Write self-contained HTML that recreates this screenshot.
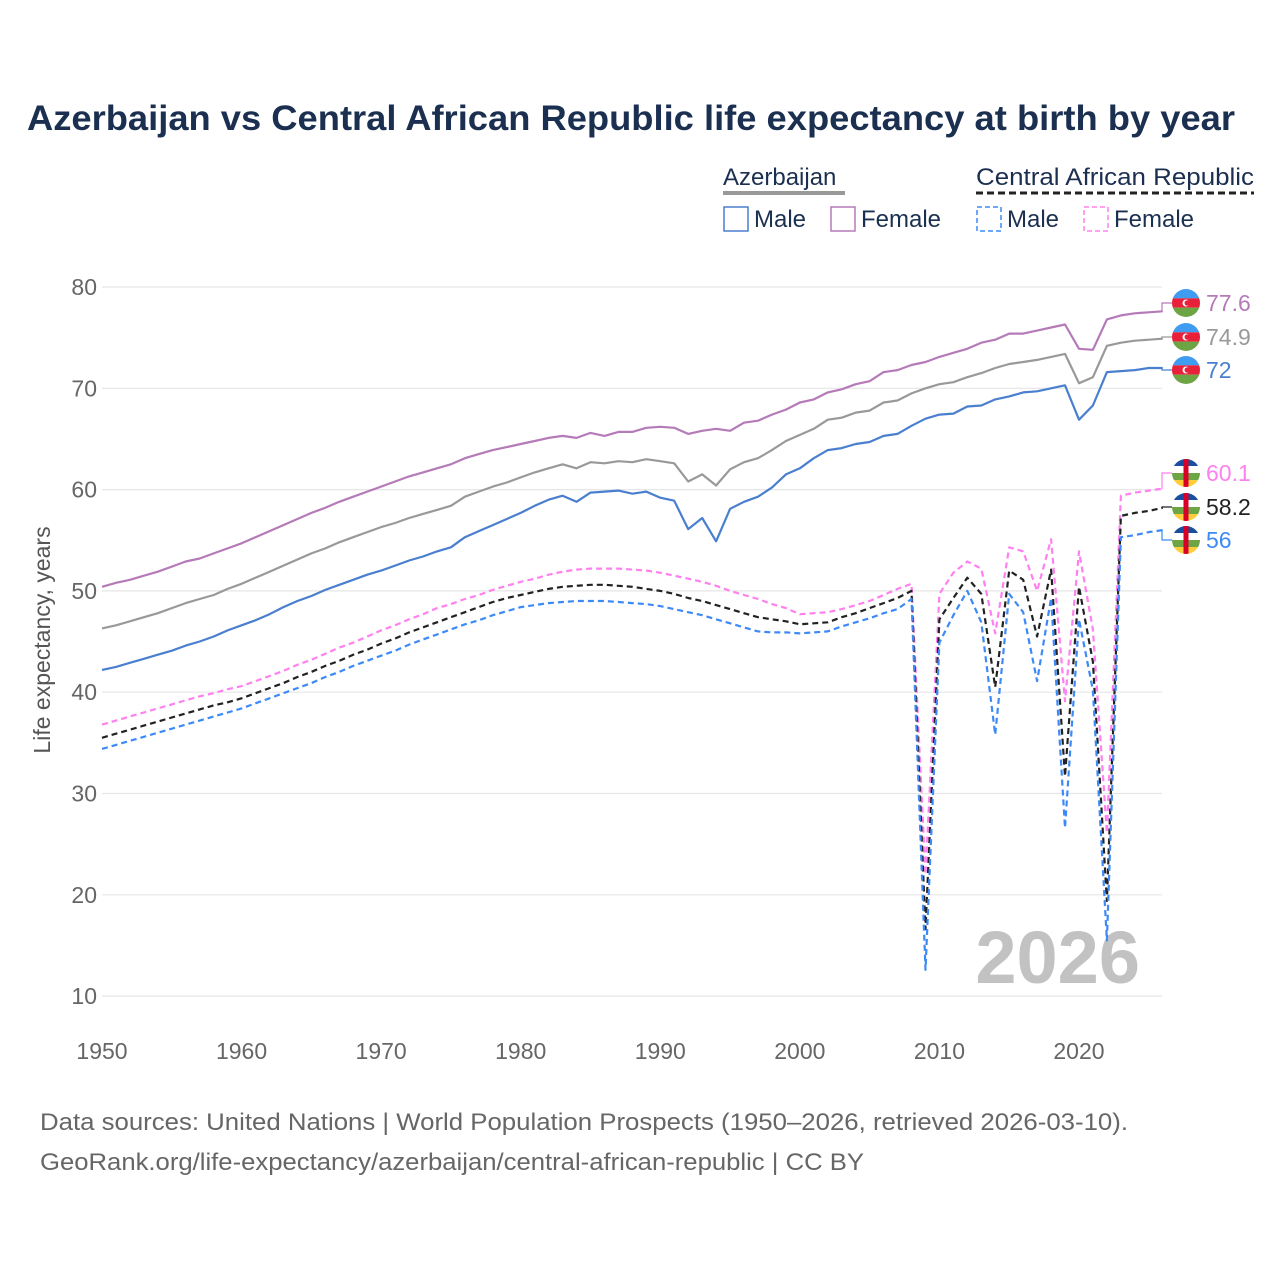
<!DOCTYPE html>
<html><head><meta charset="utf-8">
<style>
body{margin:0;background:#fff;font-family:"Liberation Sans",sans-serif;}
#wrap{position:relative;width:1280px;height:1280px;overflow:hidden;}
</style></head>
<body>
<div id="wrap">
<svg id="chart" width="1280" height="1280" viewBox="0 0 1280 1280" xmlns="http://www.w3.org/2000/svg">
<text x="631" y="130" text-anchor="middle" font-size="35" font-weight="bold" fill="#1b2f50" textLength="1208" lengthAdjust="spacingAndGlyphs">Azerbaijan vs Central African Republic life expectancy at birth by year</text>
<g font-size="24" fill="#1b2f50">
<text x="723" y="185">Azerbaijan</text>
<line x1="723" y1="193" x2="845" y2="193" stroke="#999" stroke-width="4"/>
<rect x="724" y="207" width="24" height="24" fill="none" stroke="#4a7fcf" stroke-width="1.5"/>
<text x="754" y="227">Male</text>
<rect x="831" y="207" width="24" height="24" fill="none" stroke="#b57ab8" stroke-width="1.5"/>
<text x="861" y="227">Female</text>
<text x="976" y="185" textLength="278" lengthAdjust="spacingAndGlyphs">Central African Republic</text>
<line x1="976" y1="193" x2="1254" y2="193" stroke="#222" stroke-width="3" stroke-dasharray="7,4"/>
<rect x="977" y="207" width="24" height="24" fill="none" stroke="#3d8af7" stroke-width="1.5" stroke-dasharray="5,3"/>
<text x="1007" y="227">Male</text>
<rect x="1084" y="207" width="24" height="24" fill="none" stroke="#ff80ef" stroke-width="1.5" stroke-dasharray="5,3"/>
<text x="1114" y="227">Female</text>
</g>
<g id="grid"></g>
<text x="1140" y="983" text-anchor="end" font-size="74" font-weight="bold" fill="#c2c2c2">2026</text>
<text transform="translate(50,640) rotate(-90)" text-anchor="middle" font-size="23" fill="#555">Life expectancy, years</text>
<g id="series"></g>
<g id="ends"></g>
<text x="40" y="1130" font-size="24" fill="#666" textLength="1088" lengthAdjust="spacingAndGlyphs">Data sources: United Nations | World Population Prospects (1950–2026, retrieved 2026-03-10).</text>
<text x="40" y="1170" font-size="24" fill="#666" textLength="824" lengthAdjust="spacingAndGlyphs">GeoRank.org/life-expectancy/azerbaijan/central-african-republic | CC BY</text>
</svg>
</div>
<script>
const startYear = 1950;
const yTicks = [10,20,30,40,50,60,70,80];
const xTicks = [1950,1960,1970,1980,1990,2000,2010,2020];
const azMale = [42.2,42.5,42.9,43.3,43.7,44.1,44.6,45.0,45.5,46.1,
46.6,47.1,47.7,48.4,49.0,49.5,50.1,50.6,51.1,51.6,
52.0,52.5,53.0,53.4,53.9,54.3,55.3,55.9,56.5,57.1,
57.7,58.4,59.0,59.4,58.8,59.7,59.8,59.9,59.6,59.8,
59.2,58.9,56.1,57.2,54.9,58.1,58.8,59.3,60.2,61.5,
62.1,63.1,63.9,64.1,64.5,64.7,65.3,65.5,66.3,67.0,
67.4,67.5,68.2,68.3,68.9,69.2,69.6,69.7,70.0,70.3,
66.9,68.3,71.6,71.7,71.8,72.0,72.0];
const azFemale = [50.4,50.8,51.1,51.5,51.9,52.4,52.9,53.2,53.7,54.2,
54.7,55.3,55.9,56.5,57.1,57.7,58.2,58.8,59.3,59.8,
60.3,60.8,61.3,61.7,62.1,62.5,63.1,63.5,63.9,64.2,
64.5,64.8,65.1,65.3,65.1,65.6,65.3,65.7,65.7,66.1,
66.2,66.1,65.5,65.8,66.0,65.8,66.6,66.8,67.4,67.9,
68.6,68.9,69.6,69.9,70.4,70.7,71.6,71.8,72.3,72.6,
73.1,73.5,73.9,74.5,74.8,75.4,75.4,75.7,76.0,76.3,
73.9,73.8,76.8,77.2,77.4,77.5,77.6];
const azBoth = [46.3,46.6,47.0,47.4,47.8,48.3,48.8,49.2,49.6,50.2,
50.7,51.3,51.9,52.5,53.1,53.7,54.2,54.8,55.3,55.8,
56.3,56.7,57.2,57.6,58.0,58.4,59.3,59.8,60.3,60.7,
61.2,61.7,62.1,62.5,62.1,62.7,62.6,62.8,62.7,63.0,
62.8,62.6,60.8,61.5,60.4,62.0,62.7,63.1,63.9,64.8,
65.4,66.0,66.9,67.1,67.6,67.8,68.6,68.8,69.5,70.0,
70.4,70.6,71.1,71.5,72.0,72.4,72.6,72.8,73.1,73.4,
70.5,71.1,74.2,74.5,74.7,74.8,74.9];
const carMale = [34.4,34.8,35.2,35.6,36.0,36.4,36.8,37.2,37.6,38.0,
38.4,38.9,39.4,39.9,40.4,40.9,41.5,42.0,42.6,43.1,
43.6,44.1,44.7,45.2,45.7,46.2,46.7,47.1,47.6,48.0,
48.4,48.6,48.8,48.9,49.0,49.0,49.0,48.9,48.8,48.7,
48.5,48.2,47.9,47.6,47.2,46.8,46.4,46.0,45.9,45.9,
45.8,45.9,46.0,46.5,46.9,47.3,47.8,48.2,49.2,12.6,
44.9,47.6,50.0,46.9,35.8,49.7,47.9,41.1,49.3,26.6,
47.2,40.2,15.5,55.3,55.5,55.8,56.0];
const carFemale = [36.8,37.2,37.6,38.0,38.4,38.8,39.2,39.6,39.9,40.3,
40.6,41.1,41.6,42.1,42.7,43.2,43.8,44.4,44.9,45.5,
46.1,46.6,47.2,47.7,48.3,48.7,49.2,49.6,50.1,50.5,
50.9,51.2,51.6,51.9,52.1,52.2,52.2,52.2,52.1,52.0,
51.8,51.5,51.2,50.9,50.5,50.0,49.6,49.2,48.7,48.3,
47.7,47.8,47.9,48.2,48.6,49.0,49.6,50.2,50.7,22.0,
49.7,51.8,52.9,52.2,45.8,54.3,53.9,50.0,55.1,39.1,
53.9,46.2,26.1,59.4,59.7,59.9,60.1];
const carBoth = [35.5,35.9,36.3,36.7,37.1,37.5,37.9,38.3,38.7,39.0,
39.4,39.9,40.4,40.9,41.5,42.0,42.6,43.1,43.7,44.2,
44.8,45.3,45.9,46.4,46.9,47.4,47.9,48.4,48.9,49.3,
49.6,49.9,50.2,50.4,50.5,50.6,50.6,50.5,50.4,50.2,
50.0,49.7,49.3,49.0,48.6,48.2,47.8,47.4,47.2,47.0,
46.7,46.8,46.9,47.4,47.8,48.3,48.8,49.3,50.0,16.6,
47.2,49.3,51.3,49.7,40.5,52.0,51.1,45.5,52.1,31.7,
50.4,43.0,19.4,57.4,57.7,57.9,58.2];

const NS="http://www.w3.org/2000/svg";
const X0=102, PX_PER_YEAR=13.957, Y80=287, PX_PER_UNIT=10.13;
function xs(yr){return X0+(yr-1950)*PX_PER_YEAR;}
function ys(v){return Y80+(80-v)*PX_PER_UNIT;}
function mk(tag,attrs,parent){const e=document.createElementNS(NS,tag);for(const k in attrs)e.setAttribute(k,attrs[k]);parent.appendChild(e);return e;}

const grid=document.getElementById('grid');
yTicks.forEach(t=>{
  const l=mk('line',{x1:102,x2:1162,y1:ys(t),y2:ys(t),stroke:'#e6e6e6','stroke-width':1.2},grid);
  
  
  const tx=mk('text',{x:97,y:ys(t)+8,'text-anchor':'end','font-size':23,fill:'#666'},grid);
  tx.textContent=t;
  
  
});
xTicks.forEach(t=>{
  const tx=mk('text',{x:xs(t),y:1059,'text-anchor':'middle','font-size':23,fill:'#666'},grid);
  tx.textContent=t;
  
  
});

const seriesDefs=[
 {d:carFemale,c:'#ff80ef',dash:'6,4',n:'car-female-line',ly:473,flag:'car'},
 {d:carBoth,c:'#222',dash:'6,4',n:'car-both-line',ly:507,flag:'car'},
 {d:carMale,c:'#3d8af7',dash:'6,4',n:'car-male-line',ly:540,flag:'car'},
 {d:azFemale,c:'#b57ab8',dash:null,n:'az-female-line',ly:303,flag:'az'},
 {d:azBoth,c:'#999',dash:null,n:'az-both-line',ly:337,flag:'az'},
 {d:azMale,c:'#4a7fcf',dash:null,n:'az-male-line',ly:370,flag:'az'}
];
const sg=document.getElementById('series');
const ends=document.getElementById('ends');
seriesDefs.forEach(s=>{
  const pts=s.d.map((v,i)=>xs(startYear+i).toFixed(1)+','+ys(v).toFixed(1)).join(' ');
  const a={points:pts,fill:'none',stroke:s.c,'stroke-width':2.2,'stroke-linejoin':'round'};
  if(s.dash)a['stroke-dasharray']=s.dash;
  const p=mk('polyline',a,sg);
  
  
  const last=s.d[s.d.length-1];
  const lx=xs(startYear+s.d.length-1);
  const c={points:lx+','+ys(last)+' 1162,'+ys(last)+' 1162,'+s.ly+' 1172,'+s.ly,fill:'none',stroke:s.c,'stroke-width':1.2};
  const conn=mk('polyline',c,ends);
  
  
  const g=mk('g',{},ends);
  
  
  const cx=1186, cy=s.ly, r=14;
  const cid='clip'+s.n;
  const cp=mk('clipPath',{id:cid},g); mk('circle',{cx:cx,cy:cy,r:r},cp);
  const fg=mk('g',{'clip-path':'url(#'+cid+')'},g);
  if(s.flag==='az'){
    mk('rect',{x:cx-r,y:cy-r,width:2*r,height:2*r/3,fill:'#3f9cf0'},fg);
    mk('rect',{x:cx-r,y:cy-r/3,width:2*r,height:2*r/3,fill:'#e8203a'},fg);
    mk('rect',{x:cx-r,y:cy+r/3,width:2*r,height:2*r/3,fill:'#6da544'},fg);
    mk('circle',{cx:cx,cy:cy,r:3.5,fill:'#fff'},fg);
    mk('circle',{cx:cx+1.3,cy:cy,r:2.8,fill:'#e8203a'},fg);
  } else {
    const cols=['#1a4fa0','#fff','#6da544','#ffce3a'];
    cols.forEach((col,i)=>mk('rect',{x:cx-r,y:cy-r+i*r/2,width:2*r,height:r/2,fill:col},fg));
    mk('rect',{x:cx-2.5,y:cy-r,width:5,height:2*r,fill:'#d80027'},fg);
  }
  const t=mk('text',{x:1206,y:s.ly+8,'font-size':23,fill:s.c},ends);
  t.textContent=String(last);
  
  
});
</script>
</body></html>
